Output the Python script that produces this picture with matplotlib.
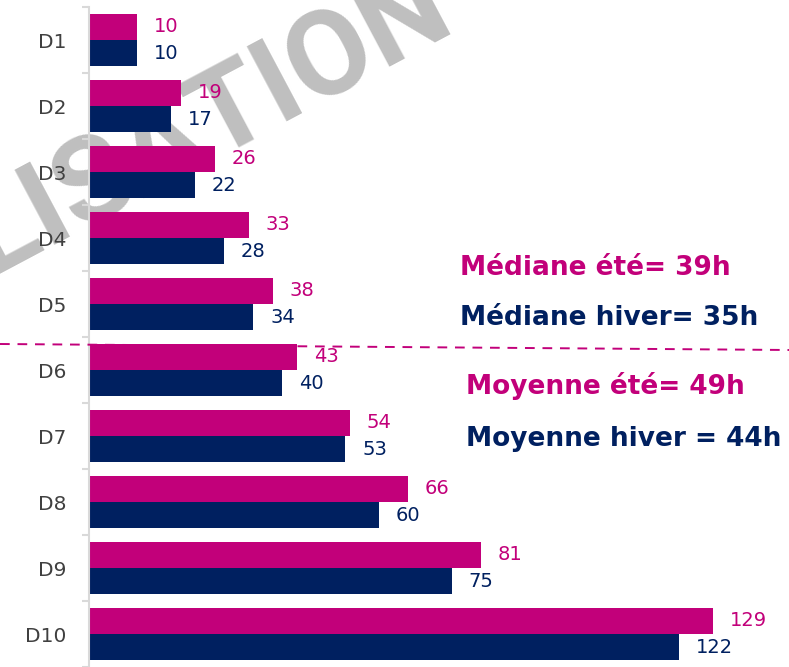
import matplotlib.pyplot as plt
from matplotlib.lines import Line2D
import numpy as np

# deciles and hours per decile
deciles = ["D1", "D2", "D3", "D4", "D5", "D6", "D7", "D8", "D9", "D10"]
ete = [10, 19, 26, 33, 38, 43, 54, 66, 81, 129]
hiver = [10, 17, 22, 28, 34, 40, 53, 60, 75, 122]

notes = [
    ("Médiane été= 39h", "ete"),
    ("Médiane hiver= 35h", "hiver"),
    ("Moyenne été= 49h", "ete"),
    ("Moyenne hiver = 44h", "hiver"),
]

PINK = "#C2007A"
NAVY = "#002060"
FONT = "DejaVu Sans"

W, H = 789, 667
fig = plt.figure(figsize=(W / 100, H / 100), dpi=100)
ax = fig.add_axes([89 / W, 0, 700 / W, 660 / H])

# watermark behind the bars
fig.text(458 / W, 1 - 30 / H, "VISUALISATION", fontsize=86, color="#BFBFBF",
         family="Roboto", fontweight="bold", rotation=28, rotation_mode="anchor",
         ha="right", va="baseline", zorder=0)
ax.set_zorder(1)
ax.patch.set_alpha(0)

y = np.arange(len(deciles))
h = 0.4
ax.barh(y - h / 2, ete, height=h, color=PINK)
ax.barh(y + h / 2, hiver, height=h, color=NAVY)

for yi, v in zip(y, ete):
    ax.annotate(str(v), (v, yi - h / 2), xytext=(12, 0), textcoords="offset points",
                va="center", ha="left", color=PINK, fontsize=14, family=FONT)
for yi, v in zip(y, hiver):
    ax.annotate(str(v), (v, yi + h / 2), xytext=(12, 0), textcoords="offset points",
                va="center", ha="left", color=NAVY, fontsize=14, family=FONT)

ax.set_xlim(0, 700 / 4.837)
ax.set_ylim(9.32, -0.5)
ax.set_yticks(y)
ax.set_yticklabels(deciles, fontsize=14.5, color="#404040", family=FONT)
ax.set_yticks(np.arange(-0.5, 10, 1), minor=True)
ax.tick_params(axis="y", which="major", length=0, pad=16)
ax.tick_params(axis="y", which="minor", length=5, width=1.5, color="#D9D9D9")
ax.set_xticks([])
for s in ["top", "right", "bottom"]:
    ax.spines[s].set_visible(False)
ax.spines["left"].set_color("#D9D9D9")
ax.spines["left"].set_linewidth(1.5)

# dashed separator across the figure
fig.add_artist(Line2D([0, 1], [1 - 344 / H, 1 - 350 / H], transform=fig.transFigure,
                      color=PINK, linestyle=(0, (5, 4)), linewidth=1.4, zorder=3))

note_pos = [(460, 268), (460, 318), (466, 386), (466, 439)]
for (txt, kind), (px, py) in zip(notes, note_pos):
    fig.text(px / W, 1 - py / H, txt, fontsize=19, fontweight="bold", family=FONT,
             color=PINK if kind == "ete" else NAVY, ha="left", va="center", zorder=4)

fig.savefig("out.png", dpi=100)
